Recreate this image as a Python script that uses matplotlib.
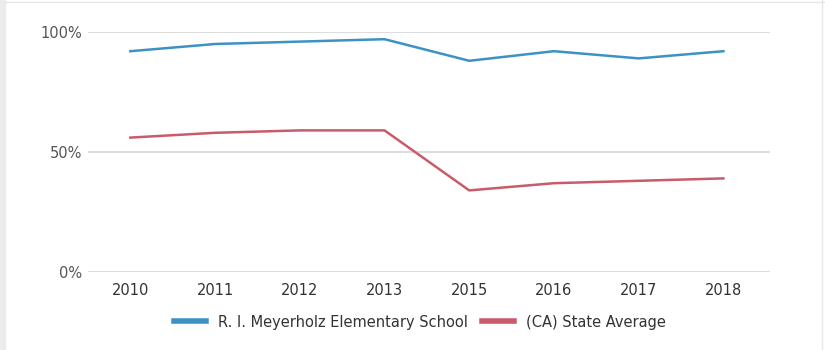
import matplotlib
matplotlib.use("Agg")
import matplotlib.pyplot as plt
from matplotlib.patches import Rectangle
from matplotlib.lines import Line2D

years = ["2010", "2011", "2012", "2013", "2015", "2016", "2017", "2018"]
school = [92, 95, 96, 97, 88, 92, 89, 92]
state = [56, 58, 59, 59, 34, 37, 38, 39]
yticks = [0, 50, 100]
ytick_labels = ["0%", "50%", "100%"]
series_names = ["R. I. Meyerholz Elementary School", "(CA) State Average"]

blue = "#3d92c4"
red = "#c95b6b"
tick_color = "#555555"

fig = plt.figure(figsize=(8.25, 3.5), dpi=100)
ax = fig.add_axes([88/825, 1-272/350, (770-88)/825, 240/350])

x = list(range(len(years)))
ax.plot(x, school, color=blue, lw=1.8, label=series_names[0], clip_on=False)
ax.plot(x, state, color=red, lw=1.8, label=series_names[1], clip_on=False)

ax.set_ylim(0, 100)
ax.set_xlim(-0.5, len(years) - 1 + 0.55)
ax.set_yticks(yticks)
ax.set_yticklabels(ytick_labels)
ax.set_xticks(x)
ax.set_xticklabels(years)
ax.grid(axis="y", color="#dddddd", lw=1.5)
ax.set_axisbelow(True)
for s in ax.spines.values():
    s.set_visible(False)
ax.tick_params(axis="y", length=0, pad=4, labelsize=10.5, labelcolor=tick_color)
ax.tick_params(axis="x", length=0, pad=8, labelsize=10.5, labelcolor="#333333")

handles = [Line2D([0], [0], color=blue, lw=4), Line2D([0], [0], color=red, lw=4)]
fig.legend(handles, series_names, loc="center", bbox_to_anchor=(420/825, 1-322/350),
           ncol=2, frameon=False, fontsize=10.5, handlelength=2.2, handletextpad=0.8,
           columnspacing=1.0, labelcolor="#333333")

# frame decorations
fig.patches.append(Rectangle((0, 0), 5/825, 1, transform=fig.transFigure, color="#ececec", zorder=0))
fig.add_artist(Line2D([5/825, 1], [1-1.5/350, 1-1.5/350], transform=fig.transFigure, color="#e6e6e6", lw=1))
fig.add_artist(Line2D([1-3/825, 1-3/825], [0, 1], transform=fig.transFigure, color="#e6e6e6", lw=1))

fig.savefig("out.png", dpi=100)
